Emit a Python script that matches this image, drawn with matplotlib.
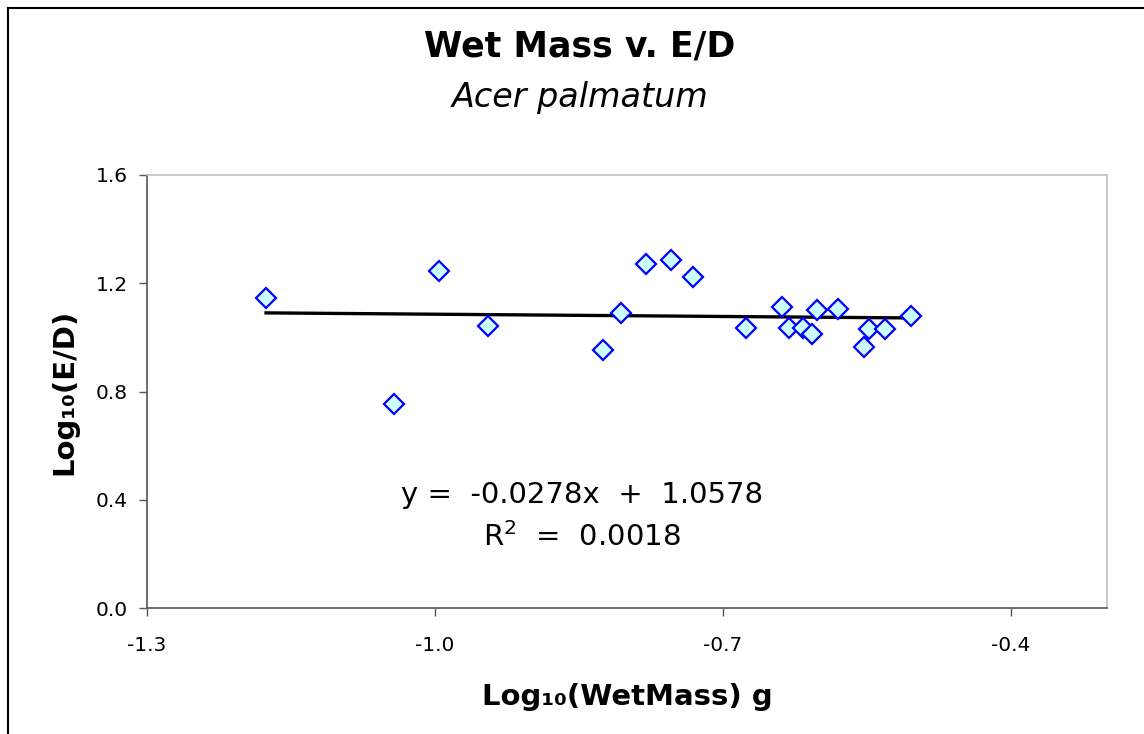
import numpy as np
import matplotlib
matplotlib.use("Agg")
import matplotlib.pyplot as plt
from matplotlib.lines import Line2D

# log10(wet mass, g) vs log10(E/D), Acer palmatum
log_mass = [-1.176, -1.043, -0.996, -0.945, -0.825, -0.806, -0.780, -0.754,
            -0.731, -0.676, -0.639, -0.631, -0.617, -0.607, -0.602, -0.580,
            -0.553, -0.548, -0.531, -0.504]
log_ed = [1.146, 0.754, 1.245, 1.042, 0.953, 1.090, 1.271, 1.286,
          1.223, 1.035, 1.112, 1.035, 1.035, 1.013, 1.101, 1.105,
          0.965, 1.031, 1.031, 1.079]

slope = -0.0278
intercept = 1.0578
r2 = 0.0018

x_ticks = [-1.3, -1.0, -0.7, -0.4]
y_ticks = [0.0, 0.4, 0.8, 1.2, 1.6]

W, H = 1144, 734
fig = plt.figure(figsize=(W / 100, H / 100), dpi=100)
ax = fig.add_axes([147 / W, 1 - 608 / H, (1107 - 147) / W, (608 - 175) / H])

x = np.array(log_mass)
y = np.array(log_ed)
xl = np.array([x.min(), x.max()])
ax.plot(xl, slope * xl + intercept, color="black", lw=2.4, zorder=2)
ax.plot(x, y, linestyle="none", marker="D", ms=10, mfc="#ccffff",
        mec="#0000ff", mew=1.6, zorder=3)

ax.set_xlim(-1.3, -0.3)
ax.set_ylim(0, 1.6)
ax.set_xticks(x_ticks)
ax.set_xticklabels([f"{v:.1f}" for v in x_ticks])
ax.set_yticks(y_ticks)
ax.set_yticklabels([f"{v:.1f}" for v in y_ticks])
ax.tick_params(axis="both", direction="out", length=6, width=1, colors="#555555",
               labelcolor="black", labelsize=14.5)
ax.tick_params(axis="x", pad=14)
ax.tick_params(axis="y", pad=8)

for side in ["left", "bottom"]:
    ax.spines[side].set_color("#555555")
    ax.spines[side].set_linewidth(1.2)
for side in ["top", "right"]:
    ax.spines[side].set_color("#c0c0c0")
    ax.spines[side].set_linewidth(1.2)

ax.set_xlabel("Log₁₀(WetMass) g", fontsize=21, fontweight="bold", labelpad=20)
ax.set_ylabel("Log₁₀(E/D)", fontsize=21, fontweight="bold", labelpad=12)

fig.text(580 / W, 1 - 47 / H, "Wet Mass v. E/D", ha="center", va="center",
         fontsize=25, fontweight="bold")
fig.text(580 / W, 1 - 97 / H, "Acer palmatum", ha="center", va="center",
         fontsize=24, fontstyle="italic")

ax.text(0.453, 0.262, f"y =  {slope}x  +  {intercept}", transform=ax.transAxes,
        ha="center", va="center", fontsize=21)
ax.text(0.453, 0.165, f"R$^2$  =  {r2}", transform=ax.transAxes,
        ha="center", va="center", fontsize=21)

# outer chart frame (top and left edges visible)
fig.add_artist(Line2D([8 / W, 8 / W], [0, 1 - 8 / H], color="black", lw=1.5))
fig.add_artist(Line2D([8 / W, 1], [1 - 8 / H, 1 - 8 / H], color="black", lw=1.5))

fig.savefig("out.png", dpi=100)
